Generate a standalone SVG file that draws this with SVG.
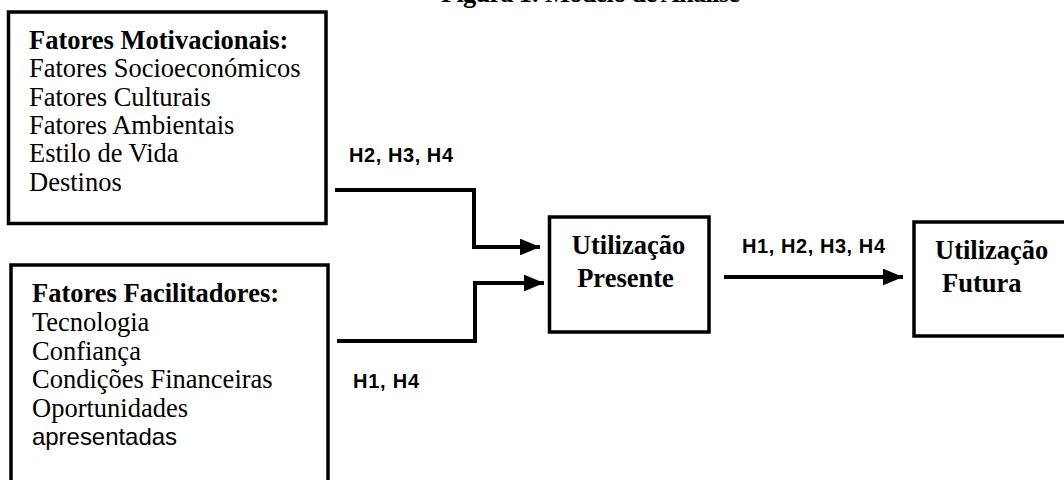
<svg xmlns="http://www.w3.org/2000/svg" width="1064" height="480" viewBox="0 0 1064 480">
<style>
.box{fill:#fff;stroke:#000;stroke-width:3.5}
.s{font-family:"Liberation Serif","Times New Roman",serif;font-size:26.5px;fill:#000}
.b{font-weight:bold}
.h{font-family:"Liberation Sans",Arial,sans-serif;font-weight:bold;font-size:20px;fill:#000}
.c{fill:none;stroke:#000;stroke-width:4}
</style>
<defs>
<marker id="ah" markerWidth="5" markerHeight="4.2" refX="5" refY="2.1" orient="auto" markerUnits="strokeWidth">
<path d="M0,0 L5,2.1 L0,4.2 Z" fill="#000"/>
</marker>
</defs>
<rect width="1064" height="480" fill="#fff"/>
<text class="s b" x="441" y="2" font-size="24" textLength="299">Figura 1: Modelo de Análise</text>
<g id="motivacionais">
<rect class="box" x="8.5" y="12" width="317.5" height="211.5"/>
<text class="s b" x="29" y="49">Fatores Motivacionais:</text>
<text class="s" x="29" y="77">Fatores Socioeconómicos</text>
<text class="s" x="29" y="106">Fatores Culturais</text>
<text class="s" x="29" y="134">Fatores Ambientais</text>
<text class="s" x="29" y="162">Estilo de Vida</text>
<text class="s" x="29" y="191">Destinos</text>
</g>
<g id="facilitadores">
<rect class="box" x="11" y="265" width="317" height="240"/>
<text class="s b" x="32" y="302">Fatores Facilitadores:</text>
<text class="s" x="32" y="331">Tecnologia</text>
<text class="s" x="32" y="360">Confiança</text>
<text class="s" x="32" y="388">Condições Financeiras</text>
<text class="s" x="32" y="417">Oportunidades</text>
<text x="32" y="445" font-family="'Liberation Sans',Arial,sans-serif" font-size="24" textLength="145">apresentadas</text>
</g>
<g id="presente">
<rect class="box" x="549.5" y="217" width="159.5" height="115"/>
<text class="s b" x="628.5" y="254" text-anchor="middle">Utilização</text>
<text class="s b" x="625.5" y="287" text-anchor="middle">Presente</text>
</g>
<g id="futura">
<rect class="box" x="914" y="222" width="200" height="114"/>
<text class="s b" x="935" y="259">Utilização</text>
<text class="s b" x="942" y="292">Futura</text>
</g>
<g id="connectors">
<path class="c" d="M335,190 H474 V247 H540" marker-end="url(#ah)"/>
<path class="c" d="M337,341 H475 V283 H544" marker-end="url(#ah)"/>
<path class="c" d="M724,277 H903" marker-end="url(#ah)"/>
<text class="h" x="349" y="162" textLength="104">H2, H3, H4</text>
<text class="h" x="353" y="388" textLength="66">H1, H4</text>
<text class="h" x="742" y="253" textLength="143">H1, H2, H3, H4</text>
</g>
</svg>
